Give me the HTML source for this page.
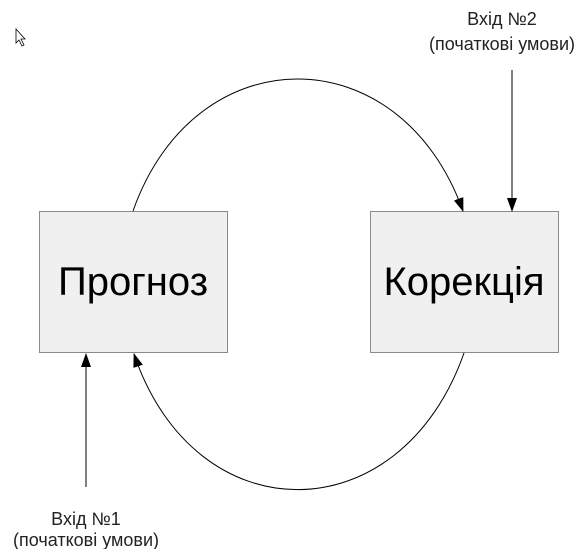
<!DOCTYPE html>
<html><head><meta charset="utf-8"><style>html,body{margin:0;padding:0;background:#fff;}</style></head>
<body>
<svg width="585" height="549" viewBox="0 0 585 549" xmlns="http://www.w3.org/2000/svg" font-family="'Liberation Sans', sans-serif">
<defs>
<marker id="a" markerWidth="14" markerHeight="10" refX="13" refY="5" orient="auto" markerUnits="userSpaceOnUse">
<path d="M0,0 L14,5 L0,10 Z" fill="#000"/>
</marker>
</defs>
<rect x="39.5" y="211.5" width="188" height="141" fill="#f0f0f0" stroke="#8a8a8a"/>
<rect x="370.5" y="211.5" width="188" height="141" fill="#f0f0f0" stroke="#8a8a8a"/>
<text x="133" y="295" font-size="40" text-anchor="middle">Прогноз</text>
<text x="464" y="295" font-size="40" text-anchor="middle">Корекція</text>
<path d="M133,211 C195,35 400,35 463,211" fill="none" stroke="#000" marker-end="url(#a)"/>
<path d="M464,353 C400,535 195,535 134,354" fill="none" stroke="#000" marker-end="url(#a)"/>
<line x1="512" y1="70" x2="512" y2="211" stroke="#000" marker-end="url(#a)"/>
<line x1="86" y1="487" x2="86" y2="354" stroke="#000" marker-end="url(#a)"/>
<text x="502" y="25" font-size="18" text-anchor="middle" fill="#222">Вхід №2</text>
<text x="502" y="50" font-size="18" text-anchor="middle" fill="#222">(початкові умови)</text>
<text x="86" y="525" font-size="18" text-anchor="middle" fill="#222">Вхід №1</text>
<text x="86" y="546" font-size="18" text-anchor="middle" fill="#222">(початкові умови)</text>
<path d="M16,29 L16,43 L19,40 L22,46 L24,45 L21,39 L25,39 Z" fill="#fff" stroke="#000" stroke-width="0.8"/>
</svg>
</body></html>
